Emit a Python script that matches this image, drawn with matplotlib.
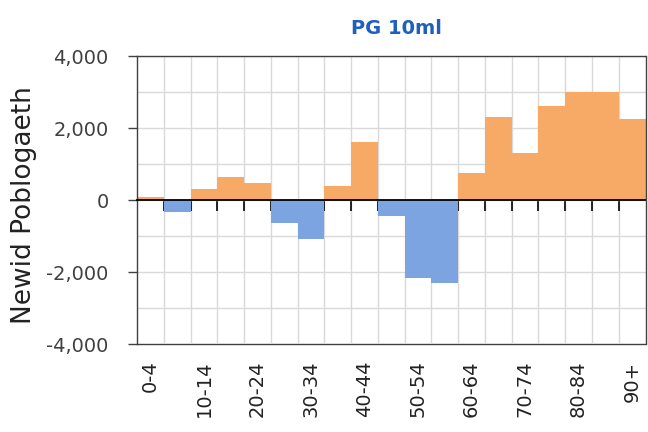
import numpy as np
import matplotlib
matplotlib.use("Agg")
import matplotlib.pyplot as plt
from matplotlib.ticker import MultipleLocator, FuncFormatter, FixedLocator

categories = ["0-4", "5-9", "10-14", "15-19", "20-24", "25-29", "30-34", "35-39",
              "40-44", "45-49", "50-54", "55-59", "60-64", "65-69", "70-74",
              "75-79", "80-84", "85-89", "90+"]
values = [70, -340, 315, 640, 480, -630, -1075, 390, 1620, -440,
          -2170, -2315, 740, 2300, 1305, 2600, 3010, 3010, 2240]

title = "PG 10ml"
ylabel = "Newid Poblogaeth"

orange = "#F7AA66"
blue = "#7BA4E0"

plt.rcParams['font.family'] = ['DejaVu Sans']

fig = plt.figure(figsize=(6.48, 4.32), dpi=100)
ax = fig.add_axes([137/648, 88/432, (645.5-137)/648, (344-56)/432])

x = np.arange(len(categories))
cols = [orange if v >= 0 else blue for v in values]
ax.bar(x, values, width=1.0, color=cols, linewidth=0, zorder=2)

ax.set_xlim(-0.5, len(categories) - 0.5)
ax.set_ylim(-4000, 4000)

# y axis
ax.yaxis.set_major_locator(MultipleLocator(2000))
ax.yaxis.set_minor_locator(MultipleLocator(1000))
ax.yaxis.set_major_formatter(FuncFormatter(lambda v, p: f"{int(v):,}"))
ax.tick_params(axis='y', which='major', direction='out', length=6.5, width=1,
               color='#404040', labelsize=14, labelcolor='#404040', pad=14)
ax.tick_params(axis='y', which='minor', length=0)

# x axis: ticks at category boundaries on zero line
ax.spines['bottom'].set_position(('data', 0))
ax.spines['bottom'].set_color('black')
ax.spines['bottom'].set_linewidth(1.3)
ax.spines['bottom'].set_zorder(3)
ax.xaxis.set_major_locator(FixedLocator([]))
ax.xaxis.set_minor_locator(FixedLocator(np.arange(0.5, len(categories) - 1, 1)))
ax.tick_params(axis='x', which='minor', direction='out', length=8, width=1.2,
               color='black')
ax.tick_params(axis='x', which='major', length=0, labelbottom=False)

for s in ['top', 'right', 'left']:
    ax.spines[s].set_color('#404040')
    ax.spines[s].set_linewidth(1.0)

ax.grid(which='minor', axis='x', color='#D9D9D9', linewidth=1.0, zorder=0)
ax.grid(which='both', axis='y', color='#D9D9D9', linewidth=1.0, zorder=0)
ax.set_axisbelow(True)

# category labels along the bottom of the plot area
sec = ax.secondary_xaxis(0)
sec.set_xticks(x[::2], [categories[i] for i in x[::2]])
sec.tick_params(axis='x', length=0, pad=12, labelsize=14, labelcolor='#222222',
                labelrotation=90)
sec.spines['bottom'].set_color('#404040')
sec.spines['bottom'].set_linewidth(1.0)

fig.text(396/648, 1 - 28/432, title, ha='center', va='center',
         fontsize=14, fontweight='bold', color='#1F5FBF')
fig.text(24/648, 1 - 205/432, ylabel, ha='center', va='center',
         rotation=90, fontsize=19, color='#222222')

fig.savefig("out.png", dpi=100)
